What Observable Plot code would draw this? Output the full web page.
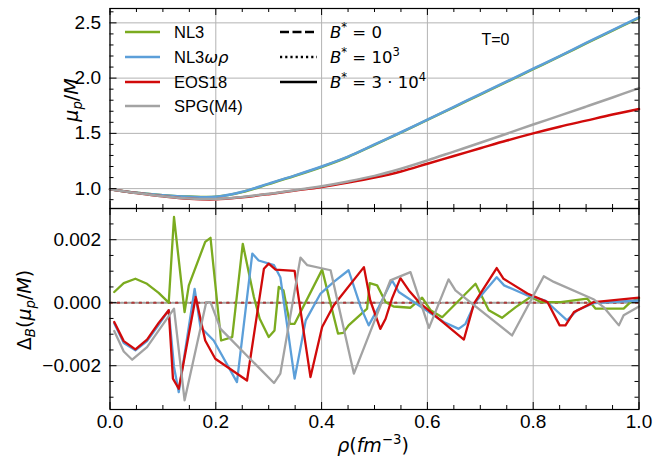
<!DOCTYPE html>
<html><head><meta charset="utf-8">
<script src="https://cdn.jsdelivr.net/npm/d3@7"></script>
<script src="https://cdn.jsdelivr.net/npm/@observablehq/plot@0.6"></script>
<style>
body{margin:0;background:#fff;}
#chart{position:relative;width:657px;height:459px;background:#fff;}
#chart svg{position:absolute;left:0;overflow:visible;}
</style></head><body><div id="chart"></div>
<script>
// ---------- data ----------
const seriesNames = ["NL3", "NL3ωρ", "EOS18", "SPG(M4)"];
const seriesColors = ["#7bab1f", "#5c9fd9", "#d10a0a", "#a3a3a3"];

// top panel: mu_p/M vs rho
const rhoTop = [0,0.05,0.1,0.15,0.2,0.25,0.3,0.35,0.4,0.45,0.5,0.55,0.6,0.65,0.7,0.75,0.8,0.85,0.9,0.95,1.0];
const muNL3   = [0.995,0.963,0.941,0.928,0.927,0.968,1.041,1.116,1.196,1.286,1.396,1.506,1.621,1.736,1.851,1.966,2.081,2.196,2.314,2.430,2.546];
const muNL3wr = [0.995,0.962,0.940,0.927,0.926,0.972,1.045,1.120,1.200,1.290,1.400,1.510,1.625,1.740,1.855,1.970,2.085,2.200,2.318,2.434,2.550];
const muEOS18 = [0.995,0.960,0.930,0.908,0.903,0.922,0.950,0.982,1.015,1.055,1.100,1.155,1.225,1.295,1.365,1.435,1.500,1.560,1.615,1.670,1.720];
const muSPG   = [0.995,0.960,0.930,0.910,0.906,0.925,0.953,0.986,1.022,1.065,1.115,1.180,1.255,1.335,1.415,1.497,1.580,1.660,1.742,1.825,1.910];

// bottom panel: Delta_B(mu_p/M) in units of 1e-3, B* = 3·10^4
const rhoNL3 = [0.008,0.026,0.048,0.070,0.092,0.111,0.121,0.141,0.149,0.180,0.190,0.210,0.231,0.251,0.272,0.283,0.300,0.311,0.319,0.328,0.340,0.349,0.401,0.431,0.441,0.451,0.486,0.491,0.505,0.521,0.536,0.568,0.590,0.606,0.628,0.691,0.716,0.741,0.767,0.795,0.814,0.852,0.902,0.918,0.971,0.984,1.0];
const dNL3   = [0.34,0.62,0.76,0.60,0.31,0.0,2.72,-0.30,0.55,1.93,2.06,-1.20,-1.09,1.87,0.18,-0.51,-1.09,-0.88,0.50,0.39,-0.67,-0.67,1.05,-0.98,-0.96,-0.72,-0.19,0.62,0.55,0.02,-0.12,-0.16,0.16,-0.24,-0.46,0.60,-0.24,-0.48,-0.14,0.18,0.02,0.02,0.13,-0.19,-0.19,0.02,0.13];
const rhoNL3wr = [0.008,0.026,0.048,0.070,0.092,0.111,0.121,0.130,0.160,0.171,0.196,0.240,0.269,0.281,0.310,0.322,0.349,0.370,0.398,0.423,0.451,0.474,0.489,0.508,0.533,0.546,0.587,0.631,0.659,0.672,0.691,0.731,0.745,0.789,0.823,0.864,0.883,0.915,1.0];
const dNL3wr   = [-0.65,-1.28,-1.51,-1.22,-0.70,-0.24,-2.04,-2.84,0.44,-0.77,-1.20,-2.52,1.56,1.34,1.19,0.81,-2.41,-0.56,0.29,0.66,1.03,-0.14,-0.72,-0.14,0.71,0.34,-0.12,-0.61,-0.83,-0.67,0.02,0.81,0.55,0.23,0.07,-0.56,-0.24,-0.01,0.07];
const rhoEOS18 = [0.008,0.026,0.048,0.070,0.092,0.111,0.119,0.130,0.162,0.180,0.199,0.259,0.291,0.300,0.313,0.349,0.379,0.401,0.423,0.480,0.492,0.511,0.521,0.533,0.549,0.565,0.587,0.669,0.688,0.731,0.744,0.789,0.827,0.850,0.861,0.877,0.915,1.0];
const dEOS18   = [-0.61,-1.22,-1.48,-1.17,-0.64,-0.24,-2.41,-2.73,0.18,-1.20,-1.78,-2.47,1.08,1.24,1.05,1.01,-2.36,-0.77,-0.08,1.13,0.07,-0.83,-0.51,0.13,0.78,0.39,-0.03,-1.17,-0.03,1.10,0.76,0.29,0.02,-0.72,-0.72,-0.30,0.02,0.16];
const rhoSPG = [0.008,0.026,0.042,0.070,0.121,0.141,0.182,0.190,0.209,0.310,0.322,0.360,0.373,0.417,0.461,0.530,0.568,0.603,0.640,0.653,0.760,0.820,0.839,0.915,0.933,0.962,0.971,1.0];
const dSPG   = [-0.90,-1.55,-1.81,-1.41,-0.19,-3.10,0.02,0.02,-0.83,-2.55,-2.25,1.43,1.19,1.03,-2.25,0.71,0.97,-0.80,0.74,0.39,-1.04,0.84,0.66,0.10,-0.14,-0.72,-0.40,-0.12];
// B* = 10^3 curves (indistinguishable from zero)
const rhoZero = [0, 1];
const dZero = [0, 0];

// ticks
const xMajor = [0,0.2,0.4,0.6,0.8,1.0];
const xMinor = [0.05,0.1,0.15,0.25,0.3,0.35,0.45,0.5,0.55,0.65,0.7,0.75,0.85,0.9,0.95];
const yTopMajor = [1.0,1.5,2.0,2.5];
const yTopMinor = [0.9,1.1,1.2,1.3,1.4,1.6,1.7,1.8,1.9,2.1,2.2,2.3,2.4,2.6];
const yBotMajor = [-2,0,2];
const yBotMinor = [-3,-2.5,-1.5,-1,-0.5,0.5,1,1.5,2.5];

// ---------- layout ----------
const W = 657, ML = 109.5, MR = 18.5, innerW = W - ML - MR;
const topH = 208, topMT = 8, topInner = topH - topMT;
const botTop = 208, botH = 251, botMB = 50, botInner = botH - botMB;
const FONT = "'Liberation Sans', Arial, sans-serif";
const MATH = "'DejaVu Sans', sans-serif";

const topVals = [muNL3, muNL3wr, muEOS18, muSPG];
const topData = seriesNames.flatMap((s, i) => rhoTop.map((r, j) => ({s, rho: r, v: topVals[i][j]})));
const botRhos = [rhoNL3, rhoNL3wr, rhoEOS18, rhoSPG];
const botVals = [dNL3, dNL3wr, dEOS18, dSPG];
const botData = seriesNames.flatMap((s, i) => botRhos[i].map((r, j) => ({s, rho: r, v: botVals[i][j]})));
const zeroData = seriesNames.flatMap(s => rhoZero.map((r, j) => ({s, rho: r, v: dZero[j]})));

function tickMarks(inner, yMajor, yMinor) {
  const k = "black";
  return [
    Plot.tickX(xMajor, {x: d => d, insetTop: inner - 7, stroke: k}),
    Plot.tickX(xMajor, {x: d => d, insetBottom: inner - 7, stroke: k}),
    Plot.tickX(xMinor, {x: d => d, insetTop: inner - 4, stroke: k}),
    Plot.tickX(xMinor, {x: d => d, insetBottom: inner - 4, stroke: k}),
    Plot.tickY(yMajor, {y: d => d, insetRight: innerW - 7, stroke: k}),
    Plot.tickY(yMajor, {y: d => d, insetLeft: innerW - 7, stroke: k}),
    Plot.tickY(yMinor, {y: d => d, insetRight: innerW - 4, stroke: k}),
    Plot.tickY(yMinor, {y: d => d, insetLeft: innerW - 4, stroke: k})
  ];
}

const colorScale = {domain: seriesNames, range: seriesColors};

const topPlot = Plot.plot({
  width: W, height: topH, marginLeft: ML, marginRight: MR, marginTop: topMT, marginBottom: 0,
  x: {domain: [0, 1], axis: null},
  y: {domain: [0.82, 2.63]},
  color: colorScale,
  style: {fontFamily: FONT, fontSize: "19px", color: "black", background: "transparent", overflow: "visible"},
  marks: [
    Plot.ruleX(xMajor, {x: d => d, stroke: "#b3b3b3", strokeWidth: 1}),
    Plot.ruleY(yTopMajor, {y: d => d, stroke: "#b3b3b3", strokeWidth: 1}),
    Plot.line(topData, {x: "rho", y: "v", z: "s", stroke: "s", strokeWidth: 2.5, curve: "catmull-rom"}),
    ...tickMarks(topInner, yTopMajor, yTopMinor),
    Plot.axisY(yTopMajor, {tickSize: 0, tickPadding: 9, tickFormat: d3.format(".1f"), label: null}),
    Plot.frame({stroke: "black", strokeWidth: 1.2})
  ]
});

const botPlot = Plot.plot({
  width: W, height: botH, marginLeft: ML, marginRight: MR, marginTop: 0, marginBottom: botMB,
  x: {domain: [0, 1]},
  y: {domain: [-3.39, 2.99]},
  color: colorScale,
  style: {fontFamily: FONT, fontSize: "19px", color: "black", background: "transparent", overflow: "visible"},
  marks: [
    Plot.ruleX(xMajor, {x: d => d, stroke: "#b3b3b3", strokeWidth: 1}),
    Plot.ruleY(yBotMajor, {y: d => d, stroke: "#b3b3b3", strokeWidth: 1}),
    Plot.line(zeroData.filter(d => d.s !== "SPG(M4)"), {x: "rho", y: "v", z: "s", stroke: "s", strokeWidth: 2, strokeDasharray: "2.2,5.1", strokeOpacity: 0.7}),
    Plot.line(zeroData.filter(d => d.s === "SPG(M4)"), {x: "rho", y: "v", z: "s", stroke: "s", strokeWidth: 2, strokeDasharray: "2.2,5.1", strokeDashoffset: 3.65}),
    Plot.line(botData, {x: "rho", y: "v", z: "s", stroke: "s", strokeWidth: 2.3}),
    ...tickMarks(botInner, yBotMajor, yBotMinor),
    Plot.axisY(yBotMajor, {tickSize: 0, tickPadding: 9, tickFormat: d => d3.format(".3f")(d / 1000), label: null}),
    Plot.axisX(xMajor, {tickSize: 0, tickPadding: 5, tickFormat: d3.format(".1f"), label: null}),
    Plot.frame({stroke: "black", strokeWidth: 1.2})
  ]
});

const chart = document.getElementById("chart");
topPlot.style.top = "0px";
botPlot.style.top = botTop + "px";
chart.appendChild(botPlot);
chart.appendChild(topPlot);

// rich text helper
function rich(g, parts, fs) {
  let shift = 0;
  parts.forEach(p => {
    const ts = g.append("tspan").text(p.t);
    const target = p.sub ? fs * 0.22 : p.sup ? -fs * 0.42 : 0;
    if (target - shift !== 0) ts.attr("dy", target - shift);
    shift = target;
    if (p.sub || p.sup) ts.attr("font-size", fs * 0.7);
    if (p.it) ts.attr("font-style", "italic");
    if (p.font) ts.attr("font-family", p.font);
  });
}

// ---------- top annotations ----------
const ts = d3.select(topPlot);
const lg = ts.append("g").attr("text-anchor", "start");
const rowsY = [32, 57, 82, 106];
seriesNames.forEach((s, i) => {
  lg.append("line").attr("x1", 125).attr("x2", 160).attr("y1", rowsY[i]).attr("y2", rowsY[i])
    .attr("stroke", seriesColors[i]).attr("stroke-width", 2.6);
});
const lgFs = 16.5;
lg.append("text").attr("x", 174).attr("y", rowsY[0]).attr("dy", "0.36em").attr("font-family", FONT).attr("font-size", lgFs).text(seriesNames[0]);
{
  const t = lg.append("text").attr("x", 174).attr("y", rowsY[1]).attr("dy", "0.36em").attr("font-family", FONT).attr("font-size", lgFs);
  t.append("tspan").text("NL3");
  t.append("tspan").attr("font-family", MATH).attr("font-style", "italic").text("ωρ");
}
lg.append("text").attr("x", 174).attr("y", rowsY[2]).attr("dy", "0.36em").attr("font-family", FONT).attr("font-size", lgFs).text(seriesNames[2]);
lg.append("text").attr("x", 174).attr("y", rowsY[3]).attr("dy", "0.36em").attr("font-family", FONT).attr("font-size", lgFs).text(seriesNames[3]);

const dashes = ["9,3.5", "2.2,3", null];
const bLabels = [
  [{t: "B", it: true}, {t: "*", sup: true}, {t: " = 0"}],
  [{t: "B", it: true}, {t: "*", sup: true}, {t: " = 10"}, {t: "3", sup: true}],
  [{t: "B", it: true}, {t: "*", sup: true}, {t: " = 3 · 10"}, {t: "4", sup: true}]
];
[0, 1, 2].forEach(i => {
  const ln = lg.append("line").attr("x1", 280).attr("x2", 317).attr("y1", rowsY[i]).attr("y2", rowsY[i])
    .attr("stroke", "black").attr("stroke-width", 2.6);
  if (dashes[i]) ln.attr("stroke-dasharray", dashes[i]);
  const t = lg.append("text").attr("x", 330).attr("y", rowsY[i] + 6).attr("font-family", MATH).attr("font-size", 16.5);
  rich(t, bLabels[i], 16.5);
});
lg.append("text").attr("x", 481.5).attr("y", 45).attr("font-family", FONT).attr("font-size", 16).text("T=0");

// y label top
{
  const t = ts.append("text").attr("transform", "translate(78,100) rotate(-90)").attr("text-anchor", "middle")
    .attr("font-family", MATH).attr("font-size", 19);
  rich(t, [{t: "μ", it: true}, {t: "p", it: true, sub: true}, {t: "/", it: false}, {t: "M", it: true}], 19);
}

// ---------- bottom annotations ----------
const bs = d3.select(botPlot);
{
  const t = bs.append("text").attr("transform", `translate(31,${310 - botTop}) rotate(-90)`).attr("text-anchor", "middle")
    .attr("font-family", MATH).attr("font-size", 19);
  rich(t, [{t: "Δ"}, {t: "B", it: true, sub: true}, {t: "("}, {t: "μ", it: true}, {t: "p", it: true, sub: true}, {t: "/"}, {t: "M", it: true}, {t: ")"}], 19);
}
{
  const t = bs.append("text").attr("x", 373).attr("y", 452 - botTop).attr("text-anchor", "middle")
    .attr("font-family", MATH).attr("font-size", 19);
  rich(t, [{t: "ρ", it: true}, {t: "("}, {t: "fm", it: true}, {t: "−3", sup: true}, {t: ")"}], 19);
}
</script></body></html>
